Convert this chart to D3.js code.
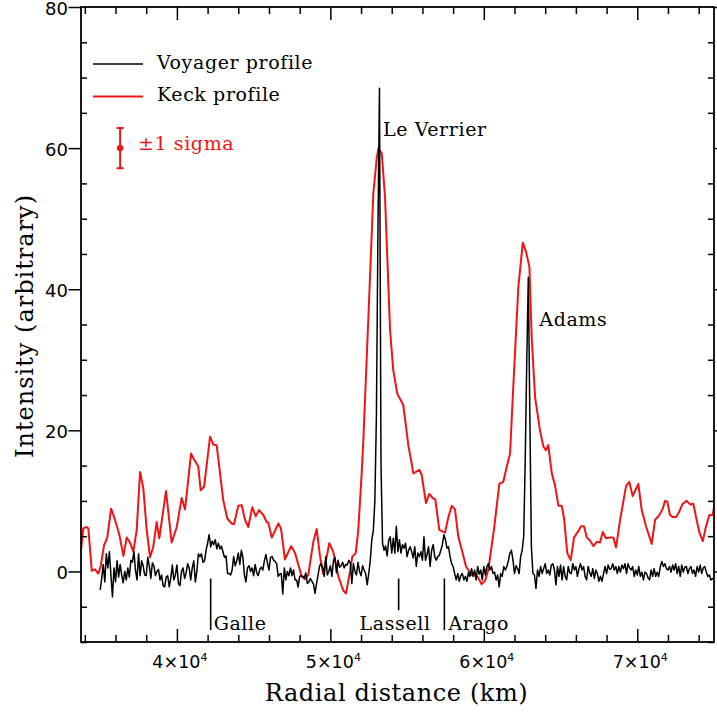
<!DOCTYPE html>
<html>
<head>
<meta charset="utf-8">
<script src="https://cdn.jsdelivr.net/npm/d3@7"></script>
<style>
  body { margin: 0; background: #fff; }
  text { font-family: "DejaVu Serif", serif; }
</style>
</head>
<body>
<div id="chart"></div>
<script>
// Keck profile, [radial distance (km), intensity]
var keckProfile = [
  [33750,3.0],[33900,6.1],[34120,6.3],[34230,6.1],[34450,0.1],[34660,0.3],[34880,-0.3],[35030,0.7],[35250,3.7],[35460,4.8],
  [35710,8.9],[35970,7.3],[36250,5.2],[36510,2.2],[36730,4.8],[36940,4.1],[37160,2.8],[37380,5.9],[37600,14.1],[37810,11.8],
  [38030,5.9],[38250,2.0],[38460,3.5],[38680,7.0],[38850,4.7],[39290,11.4],[39660,4.1],[39990,6.3],[40310,10.4],[40530,8.8],
  [40920,16.7],[41110,15.9],[41390,14.9],[41550,11.5],[41770,12.0],[42160,19.1],[42370,18.0],[42590,17.9],[43020,10.1],[43280,7.5],
  [43570,6.8],[43720,6.7],[44000,9.3],[44220,9.4],[44440,7.3],[44650,6.3],[44910,9.1],[45140,7.8],[45350,8.7],[45630,8.0],
  [45850,7.0],[45960,6.9],[46180,4.8],[46610,6.8],[46780,6.1],[47040,1.7],[47440,3.6],[47700,2.6],[48130,-0.7],[48350,-1.1],
  [48560,-0.5],[48890,4.2],[49110,6.0],[49330,2.1],[49540,-0.4],[49930,4.0],[50190,2.8],[50520,-0.7],[50840,-2.7],[51020,-3.1],
  [51280,0.0],[51430,2.1],[51650,2.6],[51820,5.9],[52040,13.9],[52150,18.6],[52470,35.6],[52800,53.6],[53020,58.5],[53120,59.9],
  [53350,59.3],[53560,53.1],[53890,34.2],[54100,28.5],[54360,25.2],[54750,23.6],[55080,17.9],[55410,13.9],[55800,14.4],[55950,13.7],
  [56230,9.7],[56450,11.0],[56670,10.4],[56840,10.2],[57100,5.9],[57470,5.5],[57690,7.7],[57910,9.3],[58120,8.8],[58340,4.9],
  [58560,3.1],[58840,0.7],[59210,-0.5],[59580,-0.7],[59860,-1.8],[60080,-1.3],[60290,0.2],[60670,6.1],[61010,12.4],[61270,12.7],
  [61490,14.8],[61710,16.7],[61920,26.2],[62250,40.3],[62540,46.6],[62750,45.3],[62970,43.2],[63120,33.2],[63340,24.7],[63660,20.0],
  [63880,17.7],[64050,17.2],[64200,17.9],[64430,13.9],[64640,12.2],[64860,9.3],[65080,9.3],[65230,7.5],[65440,2.6],[65660,1.6],
  [65880,4.8],[66090,5.5],[66340,6.4],[66530,6.4],[66710,4.8],[66920,4.4],[67140,3.6],[67360,4.2],[67570,4.1],[67750,5.6],
  [67960,4.7],[68230,4.8],[68440,4.8],[68620,3.4],[68880,7.3],[69050,9.4],[69270,12.1],[69480,12.7],[69700,10.7],[70070,12.4],
  [70290,8.7],[70570,6.4],[70940,3.9],[71160,7.3],[71440,8.0],[71660,8.9],[71810,10.0],[71960,9.9],[72130,8.0],[72310,7.7],
  [72530,7.7],[72740,8.5],[72960,9.6],[73220,10.0],[73440,9.5],[73650,9.6],[73870,7.3],[74040,5.6],[74270,4.3],[74480,6.4],
  [74700,8.0],[74920,8.0],[75000,9.1]
];

// Voyager profile, one sample every 100 km starting at 35000 km
var voyagerStart = 35000, voyagerStep = 100;
var voyagerIntensity = [
  -2.6,-1.0,1.0,-1.5,2.5,0.5,2.8,-0.5,-3.6,0.5,      // 35000
  -1.5,1.5,-0.8,1.0,-0.5,-1.6,0.0,-1.2,0.5,-0.8,     // 36000
  1.6,1.3,2.8,0.2,-1.2,2.5,-0.6,1.5,0.8,-0.5,        // 37000
  -0.6,2.0,0.8,-1.0,1.2,0.8,-0.6,0.0,0.3,-1.2,       // 38000
  -0.5,-2.0,-2.2,-0.8,-0.6,-2.2,-1.0,0.9,-1.2,-0.5,  // 39000
  0.9,-1.7,-2.0,0.0,0.5,-1.0,-0.2,1.1,0.5,-1.2,      // 40000
  0.5,1.5,-1.5,0.0,2.5,2.1,2.5,1.3,1.5,3.0,          // 41000
  4.0,5.2,3.5,4.3,3.8,4.5,3.2,4.0,3.2,3.6,           // 42000
  2.8,2.0,2.2,-0.3,-0.3,-0.5,0.2,2.1,0.8,1.5,        // 43000
  2.6,1.0,3.0,2.0,-0.5,-1.5,0.5,0.8,0.0,0.5,         // 44000
  -0.6,1.0,-0.2,-0.6,0.3,0.6,0.2,1.5,2.4,1.2,        // 45000
  0.2,2.0,2.1,1.6,1.4,1.1,-0.7,-0.4,-0.3,-3.2,       // 46000
  0.5,-1.2,0.0,-0.6,0.5,-0.6,0.2,-1.2,-1.2,-2.2,     // 47000
  -0.7,-0.6,-0.7,-0.9,-0.2,-1.7,-1.5,-1.0,-1.4,-1.8, // 48000
  -3.1,-1.7,-0.5,0.8,1.1,0.5,-0.7,2.1,-0.5,0.0,      // 49000
  0.8,-0.7,1.5,2.0,-0.2,1.6,0.6,0.8,1.3,0.5,         // 50000
  1.0,0.9,1.6,1.2,-1.7,1.1,0.0,-0.5,1.3,0.0,         // 51000
  -0.6,0.8,0.2,-0.3,-1.9,-0.3,1.5,4.5,5.8,10,        // 52000
  22,48,68.5,15,4.0,3.0,3.6,2.2,4.4,4.9,             // 53000
  2.6,4.7,2.6,6.4,2.8,4.5,2.6,3.8,3.3,4.0,           // 54000
  2.1,3.0,3.5,2.8,1.9,3.5,0.7,2.6,2.1,2.8,           // 55000
  1.6,4.9,1.6,2.4,3.5,0.7,3.0,3.8,2.1,1.6,           // 56000
  2.1,2.3,3.0,3.8,5.2,4.5,3.3,3.5,2.1,1.1,           // 57000
  0.7,-0.3,-1.2,-0.3,-1.4,-0.6,-0.3,-1.2,-0.7,-1.4,  // 58000
  -0.1,-0.7,0.4,-0.7,0.2,-1.2,0.7,-0.4,0.2,-1.2,     // 59000
  0.7,-0.5,0.7,1.1,0.2,0.7,-0.3,-0.1,-1.2,-0.5,      // 60000
  -2.2,-0.3,-0.7,0.7,0.2,0.7,1.5,2.6,3.0,1.6,        // 61000
  -0.3,0.8,0.4,-0.3,2.1,3.0,5.0,16,30,41.7,          // 62000
  22,3.5,-0.3,-0.5,-2.4,0.2,-0.7,0.7,-0.3,0.4,       // 63000
  1.1,-0.3,0.2,-0.5,0.9,1.1,0.2,-1.9,0.7,-0.7,       // 64000
  0.9,-1.2,0.7,-0.7,-1.2,0.7,-0.2,-0.3,1.1,0.2,      // 65000
  0.7,-0.7,0.4,1.1,0.2,0.7,-0.7,-1.2,0.7,-0.2,       // 66000
  -0.7,0.4,-1.0,0.2,-0.3,-1.4,-0.7,-1.4,-0.3,0.7,    // 67000
  -0.3,0.9,0.3,0.4,1.1,0.2,0.7,-0.3,0.7,-0.1,        // 68000
  0.9,0.4,1.1,-0.3,1.1,0.5,0.2,0.7,-0.7,0.2,         // 69000
  -0.5,0.7,-0.7,-0.1,-1.2,-0.1,-0.3,-0.9,-1.2,0.2,   // 70000
  -0.7,0.4,-0.7,-0.1,-0.7,0.7,1.4,0.7,1.1,0.4,       // 71000
  0.2,0.7,-0.1,0.9,0.2,1.1,-0.3,0.7,-0.7,0.9,        // 72000
  -0.1,0.6,0.7,-0.3,0.4,0.7,-0.3,0.2,-0.7,0.7,       // 73000
  -0.1,0.9,-0.3,0.5,0.7,-0.1,-0.7,-0.5,-1.2,-1.0,    // 74000
  -1.2                                                // 75000
];

// ring names, marker km and lower end of marker
var ringNames = ["Galle", "Lassell", "Arago"];
var ringKm = [42200, 54450, 57430];
var ringBottom = [-8.3, -5.5, -8.3];

var xMajorTicks = [40000, 50000, 60000, 70000];
var yMajorTicks = [0, 20, 40, 60, 80];

var sigma = {km: 36300, value: 60, err: 2.85};

var w = 717, h = 723;
var padL = 81, padR = 714, padT = 7, padB = 642;

var xScale = d3.scaleLinear().domain([33750, 75000]).range([padL, padR]);
var yScale = d3.scaleLinear().domain([-10, 80]).range([padB, padT]);

var svg = d3.select("#chart").append("svg")
  .attr("width", w).attr("height", h)
  .style("background", "#fff");

svg.append("clipPath").attr("id", "clip")
  .append("rect").attr("x", padL).attr("y", padT)
  .attr("width", padR - padL).attr("height", padB - padT);

var line = d3.line()
  .x(function(d) { return xScale(d[0]); })
  .y(function(d) { return yScale(d[1]); });

var voyager = voyagerIntensity.map(function(v, i) { return [voyagerStart + i * voyagerStep, v]; });

var plot = svg.append("g").attr("clip-path", "url(#clip)");

plot.append("path").datum(keckProfile)
  .attr("d", line).attr("fill", "none")
  .attr("stroke", "#f01414").attr("stroke-width", 2)
  .attr("stroke-linejoin", "round");

plot.append("path").datum(voyager)
  .attr("d", line).attr("fill", "none")
  .attr("stroke", "#000").attr("stroke-width", 1.5)
  .attr("stroke-linejoin", "round");

//ring markers
ringNames.forEach(function(name, i) {
  svg.append("line")
    .attr("x1", xScale(ringKm[i])).attr("x2", xScale(ringKm[i]))
    .attr("y1", yScale(-1)).attr("y2", yScale(ringBottom[i]))
    .attr("stroke", "#000").attr("stroke-width", 1.6);
});

var labelStyle = function(sel) {
  return sel.attr("font-size", 19).attr("fill", "#000").attr("letter-spacing", 0.6);
};
svg.append("text").attr("x", xScale(ringKm[0]) + 3).attr("y", yScale(-8.3)).text("Galle").call(labelStyle);
svg.append("text").attr("x", xScale(ringKm[1]) + 32).attr("y", yScale(-8.3))
  .attr("text-anchor", "end").text("Lassell").call(labelStyle);
svg.append("text").attr("x", xScale(ringKm[2]) + 4).attr("y", yScale(-8.3)).text("Arago").call(labelStyle);

svg.append("text").attr("x", xScale(53430)).attr("y", yScale(61.7)).text("Le Verrier").call(labelStyle);
svg.append("text").attr("x", xScale(63620)).attr("y", yScale(34.8)).text("Adams").call(labelStyle);

//Create X axis (bottom and top)
function xTicks(g, sign) {
  g.call(d3.axisBottom(xScale).tickValues(d3.range(34000, 75001, 2000)).tickSize(sign * 7).tickFormat(""));
  g.selectAll(".tick line").filter(function(d) { return d % 10000 === 0; }).attr("y2", sign * 13);
  g.select(".domain").remove();
  g.selectAll(".tick line").attr("stroke-width", 1.5);
}
svg.append("g").attr("transform", "translate(0," + padB + ")").call(xTicks, -1);
svg.append("g").attr("transform", "translate(0," + padT + ")").call(xTicks, 1);

//Create Y axis (left and right)
function yTicks(g, sign) {
  g.call(d3.axisLeft(yScale).tickValues(d3.range(-10, 80.1, 5)).tickSize(sign * 6).tickFormat(""));
  g.selectAll(".tick line").filter(function(d) { return d % 20 === 0; }).attr("x2", sign * 12.5);
  g.select(".domain").remove();
  g.selectAll(".tick line").attr("stroke-width", 1.5);
}
svg.append("g").attr("transform", "translate(" + padL + ",0)").call(yTicks, -1);
svg.append("g").attr("transform", "translate(" + padR + ",0)").call(yTicks, 1);

svg.append("rect").attr("x", padL).attr("y", padT)
  .attr("width", padR - padL).attr("height", padB - padT)
  .attr("fill", "none").attr("stroke", "#000").attr("stroke-width", 1.8);

// tick labels
svg.selectAll(".ylab").data(yMajorTicks).enter().append("text")
  .attr("class", "ylab")
  .attr("x", 68).attr("y", function(d) { return yScale(d); })
  .attr("dy", "0.42em").attr("text-anchor", "end")
  .style("font-family", "'DejaVu Sans', sans-serif").attr("font-size", 18)
  .text(function(d) { return d; });

var xl = svg.selectAll(".xlab").data(xMajorTicks).enter().append("text")
  .attr("class", "xlab")
  .attr("x", function(d) { return xScale(d) + 3; }).attr("y", 668)
  .attr("text-anchor", "middle")
  .style("font-family", "'DejaVu Sans', sans-serif").attr("font-size", 17.5);
xl.append("tspan").text(function(d) { return (d / 10000) + "\u00d710"; });
xl.append("tspan").attr("dy", -7).attr("font-size", 11).text("4");

// axis titles
svg.append("text").attr("x", (padL + padR) / 2 - 1).attr("y", 701)
  .attr("text-anchor", "middle").attr("font-size", 24).attr("letter-spacing", 0.6)
  .text("Radial distance (km)");
svg.append("text")
  .attr("transform", "translate(33," + 326 + ") rotate(-90)")
  .attr("text-anchor", "middle").attr("font-size", 24).attr("letter-spacing", 1)
  .text("Intensity (arbitrary)");

// legend
svg.append("line").attr("x1", 93).attr("x2", 143).attr("y1", 64).attr("y2", 64)
  .attr("stroke", "#000").attr("stroke-width", 1.5);
svg.append("text").attr("x", 157).attr("y", 69).text("Voyager profile").call(labelStyle);
svg.append("line").attr("x1", 93).attr("x2", 143).attr("y1", 96.5).attr("y2", 96.5)
  .attr("stroke", "#f01414").attr("stroke-width", 2);
svg.append("text").attr("x", 157).attr("y", 101).text("Keck profile").call(labelStyle);

// one sigma error bar
var sx = xScale(sigma.km);
svg.append("line").attr("x1", sx).attr("x2", sx)
  .attr("y1", yScale(sigma.value + sigma.err)).attr("y2", yScale(sigma.value - sigma.err))
  .attr("stroke", "#f01414").attr("stroke-width", 2);
[sigma.value + sigma.err, sigma.value - sigma.err].forEach(function(v) {
  svg.append("line").attr("x1", sx - 3.5).attr("x2", sx + 3.5)
    .attr("y1", yScale(v)).attr("y2", yScale(v))
    .attr("stroke", "#f01414").attr("stroke-width", 2);
});
svg.append("circle").attr("cx", sx).attr("cy", yScale(sigma.value)).attr("r", 3.2).attr("fill", "#f01414");
svg.append("text").attr("x", 138).attr("y", 150).text("\u00b11 sigma")
  .call(labelStyle).attr("fill", "#f01414");
</script>
</body>
</html>
